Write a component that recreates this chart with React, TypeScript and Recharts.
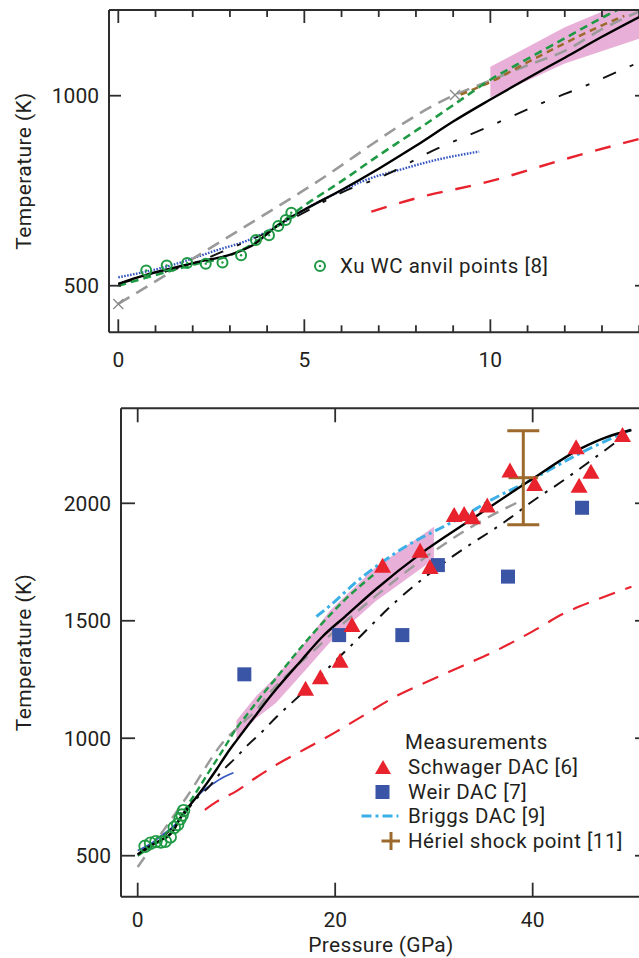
import React from 'react';
import { ComposedChart, Line, Area, Scatter, XAxis, YAxis, ErrorBar, Label } from 'recharts';

type Pt = [number, number];

const FONT = "Roboto, 'Open Sans', sans-serif";
const FRAME = '#2d2d2d';
const TEXT = '#231f20';
const GREEN = '#1f9a44';
const RED = '#e8232e';
const BLUE_SQ = '#3a55a6';
const BRIGGS = '#3cb0e6';
const BROWN = '#9c6a2c';
const GRAY = '#9a9a9a';
const BLUE_LINE = '#3656c2';
const PINK = '#e8b0d8';

// ---- data: [pressure (GPa), temperature (K)] ----
const blackCurve: Pt[] = [
  [0, 505], [0.7, 527], [1.4, 545], [2.3, 566], [2.8, 576], [3.3, 592], [3.7, 612], [4.1, 645],
  [4.5, 672], [5, 700], [6, 752], [7, 808], [8, 868], [9, 932], [10, 990], [11, 1046], [12, 1100],
  [13, 1155], [14, 1207], [16.5, 1328], [18.7, 1432], [21, 1518], [24, 1630], [28.7, 1787],
  [33.7, 1929], [39.8, 2099], [44.9, 2234], [47.5, 2282], [50, 2312],
];
const dashDotCurve: Pt[] = [
  [0, 505], [1, 530], [2, 558], [3, 598], [4, 640], [5, 693], [6, 745], [7.2, 792], [8.4, 853],
  [9.9, 916], [11.25, 975], [12.6, 1028], [14, 1088], [17, 1205], [21.5, 1390], [26.3, 1588],
  [31.4, 1759], [37.8, 1940], [39.7, 2000], [43.2, 2100], [46, 2185], [49.2, 2284],
];
const grayDashCurve: Pt[] = [
  [0, 452], [5, 752], [9, 1000], [10, 1040], [11, 1080], [12, 1118], [13, 1175], [14, 1222],
  [17.7, 1368], [20, 1458], [23.6, 1588], [29.7, 1787], [34, 1905], [39, 2015],
];
const greenDashCurve: Pt[] = [
  [0, 500], [1, 528], [2, 555], [3, 580], [3.7, 615], [4.3, 660], [4.9, 704], [6, 775], [7, 843],
  [8, 908], [9, 975], [10, 1042], [11, 1097], [12, 1151], [13, 1205], [14, 1255], [16, 1360],
  [18.7, 1490], [21, 1590], [24, 1700],
];
const brownDashCurve: Pt[] = [
  [9.2, 1003], [10, 1036], [11, 1088], [12, 1138], [13, 1185], [13.6, 1210],
];
const blueCurve: Pt[] = [
  [0, 522], [1.4, 553], [2.6, 592], [3.5, 620], [4.4, 664], [5, 700], [6, 750], [6.7, 780],
  [7.6, 806], [8.5, 830], [9.7, 853],
];
const redDashCurve: Pt[] = [
  [6.8, 695], [8, 730], [10, 775], [12, 833], [14, 886], [17, 955], [20, 1025], [23, 1100],
  [26, 1175], [29.7, 1248], [33, 1310], [36.4, 1375], [40, 1455], [43.2, 1532], [46.5, 1590],
  [50, 1645],
];
const briggsCurve: Pt[] = [
  [18.1, 1518], [19.5, 1565], [22, 1660], [24.6, 1745], [27.5, 1825], [30.7, 1895], [33, 1945],
  [35.4, 2005], [39.8, 2099], [44.9, 2215], [50, 2315],
];
const bandP = [10, 12, 14, 17, 19.5, 24, 30];
const bandLow = [995, 1085, 1150, 1290, 1410, 1580, 1762];
const bandHigh = [1076, 1180, 1262, 1410, 1545, 1725, 1900];

const xuPoints: Pt[] = [
  [0.75, 540], [1.3, 553], [1.85, 560], [2.35, 558], [2.8, 561], [3.3, 580], [3.7, 620],
  [4.05, 633], [4.3, 657], [4.5, 673], [4.65, 692],
];
const schwagerPoints: Pt[] = [
  [17, 1206], [18.5, 1255], [20.5, 1326], [21.7, 1478], [24.8, 1730], [28.6, 1794], [29.6, 1725],
  [32.05, 1946], [33.06, 1950], [33.9, 1936], [35.4, 1986], [37.7, 2135], [40.2, 2078],
  [44.4, 2234], [44.7, 2071], [45.9, 2130], [49.1, 2286],
];
const weirPoints: Pt[] = [
  [10.8, 1272], [20.4, 1439], [26.8, 1439], [30.4, 1737], [37.5, 1688], [45, 1981],
];
const herielPoint = { x: 39.05, y: 2109, ex: 1.5, ey: 200 };
const grayCrossPoints: Pt[] = [[0, 452], [9.05, 1002]];

const topXTicks = [0, 1, 2, 3, 4, 5, 6, 7, 8, 9, 10, 11, 12, 13, 14];
const topXMajor = [0, 5, 10];
const topYTicks = [500, 1000];
const botXTicks = [0, 20, 40];
const botYTicks = [500, 1000, 1500, 2000];

const rows = (pts: Pt[]) => pts.map(([x, y]) => ({ x, y }));
const bandRows = bandP.map((x, i) => ({ x, band: [bandLow[i], bandHigh[i]] }));

const TICK_FS = 21;
const TITLE_FS = 21;

// ---- tick renderers ----
function makeXTick(side: 'bottom' | 'top', majors: number[], majorLen: number, minorLen: number, labelDy: number) {
  return (props: any) => {
    const { x, y, payload } = props;
    const v = payload.value;
    const major = majors.includes(v);
    const len = major ? majorLen : minorLen;
    const dir = side === 'bottom' ? -1 : 1;
    return (
      <g>
        <line x1={x} y1={y} x2={x} y2={y + dir * len} stroke={FRAME} strokeWidth={1.8} />
        {side === 'bottom' && major ? (
          <text x={x} y={y + labelDy} textAnchor="middle" fontFamily={FONT} fontSize={TICK_FS} fill={TEXT}>
            {v}
          </text>
        ) : null}
      </g>
    );
  };
}
function makeYTick(side: 'left' | 'right', len: number) {
  return (props: any) => {
    const { x, y, payload } = props;
    const dir = side === 'left' ? 1 : -1;
    return (
      <g>
        <line x1={x} y1={y} x2={x + dir * len} y2={y} stroke={FRAME} strokeWidth={1.8} />
        {side === 'left' ? (
          <text x={x - 10} y={y + 7.5} textAnchor="end" fontFamily={FONT} fontSize={TICK_FS} fill={TEXT}>
            {payload.value}
          </text>
        ) : null}
      </g>
    );
  };
}

// ---- marker shapes ----
const XuShapeTop = (p: any) => (
  <g>
    <circle cx={p.cx} cy={p.cy} r={5} fill="none" stroke={GREEN} strokeWidth={2} />
    <circle cx={p.cx} cy={p.cy} r={1.2} fill={GREEN} />
  </g>
);
const XuShapeBot = (p: any) => (
  <circle cx={p.cx} cy={p.cy} r={5.8} fill="none" stroke={GREEN} strokeWidth={1.8} />
);
const TriShape = (p: any) => (
  <polygon
    points={`${p.cx},${p.cy - 9} ${p.cx - 8.5},${p.cy + 6} ${p.cx + 8.5},${p.cy + 6}`}
    fill={RED}
  />
);
const SqShape = (p: any) => <rect x={p.cx - 7} y={p.cy - 7} width={14} height={14} fill={BLUE_SQ} />;
const CrossShape = (p: any) => (
  <g stroke="#8a8a8a" strokeWidth={1.3}>
    <line x1={p.cx - 5} y1={p.cy - 5} x2={p.cx + 5} y2={p.cy + 5} />
    <line x1={p.cx - 5} y1={p.cy + 5} x2={p.cx + 5} y2={p.cy - 5} />
  </g>
);
const EmptyShape = () => <g />;

const axisLine = { stroke: FRAME, strokeWidth: 2 };

function TopChart() {
  const xDom: [number, number] = [-0.25, 14.21];
  const yDom: [number, number] = [377.4, 1225.5];
  return (
    <ComposedChart width={700} height={380} margin={{ top: 8, right: 51, bottom: 45.7, left: 107 }}>
      <XAxis xAxisId={0} type="number" dataKey="x" domain={xDom} allowDataOverflow ticks={topXTicks}
        interval={0} height={2} tickSize={0} tickMargin={0} tickLine={false} axisLine={axisLine}
        tick={makeXTick('bottom', topXMajor, 13, 7, 34.7)} />
      <XAxis xAxisId="top" orientation="top" type="number" dataKey="x" domain={xDom} allowDataOverflow
        ticks={topXTicks} interval={0} height={2} tickSize={0} tickMargin={0} tickLine={false}
        axisLine={axisLine} tick={makeXTick('top', topXMajor, 13, 7, 0)} />
      <YAxis yAxisId={0} type="number" dataKey="y" domain={yDom} allowDataOverflow ticks={topYTicks}
        interval={0} width={2} tickSize={0} tickMargin={0} tickLine={false} axisLine={axisLine}
        tick={makeYTick('left', 12)}>
        <Label content={() => (
          <text transform="translate(31,171) rotate(-90)" textAnchor="middle" fontFamily={FONT}
            fontSize={TITLE_FS} letterSpacing={0.4} fill={TEXT}>Temperature (K)</text>
        )} />
      </YAxis>
      <YAxis yAxisId="right" orientation="right" type="number" domain={yDom} allowDataOverflow
        ticks={topYTicks} interval={0} width={2} tickSize={0} tickMargin={0} tickLine={false}
        axisLine={axisLine} tick={makeYTick('right', 12)} />

      <Area data={bandRows} dataKey="band" type="linear" fill={PINK} fillOpacity={1} stroke="none"
        isAnimationActive={false} activeDot={false} />
      <Line data={rows(redDashCurve)} dataKey="y" type="monotone" stroke={RED} strokeWidth={2.4}
        strokeDasharray="16 13" dot={false} activeDot={false} isAnimationActive={false} />
      <Line data={rows(blueCurve)} dataKey="y" type="monotone" stroke={BLUE_LINE} strokeWidth={2.4}
        strokeDasharray="1.6 1.4" dot={false} activeDot={false} isAnimationActive={false} />
      <Line data={rows(grayDashCurve)} dataKey="y" type="monotone" stroke={GRAY} strokeWidth={2.6}
        strokeDasharray="13 8" dot={false} activeDot={false} isAnimationActive={false} />
      <Line data={rows(dashDotCurve)} dataKey="y" type="monotone" stroke="#111" strokeWidth={1.9}
        strokeDasharray="14 15 4 15" dot={false} activeDot={false} isAnimationActive={false} />
      <Line data={rows(brownDashCurve)} dataKey="y" type="monotone" stroke={BROWN} strokeWidth={2.5}
        strokeDasharray="7 5" dot={false} activeDot={false} isAnimationActive={false} />
      <Line data={rows(greenDashCurve)} dataKey="y" type="monotone" stroke={GREEN} strokeWidth={2.6}
        strokeDasharray="8 5" dot={false} activeDot={false} isAnimationActive={false} />
      <Line data={rows(blackCurve)} dataKey="y" type="monotone" stroke="#000" strokeWidth={2.4}
        dot={false} activeDot={false} isAnimationActive={false} />
      <Scatter data={rows(grayCrossPoints)} shape={CrossShape} isAnimationActive={false} />
      <Scatter data={rows(xuPoints)} shape={XuShapeTop} isAnimationActive={false} />
    </ComposedChart>
  );
}

function BottomChart() {
  const xDom: [number, number] = [-1.69, 51.78];
  const yDom: [number, number] = [325.5, 2404.4];
  return (
    <ComposedChart width={700} height={578} margin={{ top: 26.3, right: 49, bottom: 59.3, left: 119 }}>
      <XAxis xAxisId={0} type="number" dataKey="x" domain={xDom} allowDataOverflow ticks={botXTicks}
        interval={0} height={2} tickSize={0} tickMargin={0} tickLine={false} axisLine={axisLine}
        tick={makeXTick('bottom', botXTicks, 14, 14, 30.6)}>
        <Label content={() => (
          <text x={381} y={572.2} textAnchor="middle" fontFamily={FONT} fontSize={TITLE_FS}
            letterSpacing={0.3} fill={TEXT}>
            Pressure (GPa)
          </text>
        )} />
      </XAxis>
      <XAxis xAxisId="top" orientation="top" type="number" dataKey="x" domain={xDom} allowDataOverflow
        ticks={botXTicks} interval={0} height={2} tickSize={0} tickMargin={0} tickLine={false}
        axisLine={axisLine} tick={makeXTick('top', botXTicks, 14, 14, 0)} />
      <YAxis yAxisId={0} type="number" dataKey="y" domain={yDom} allowDataOverflow ticks={botYTicks}
        interval={0} width={2} tickSize={0} tickMargin={0} tickLine={false} axisLine={axisLine}
        tick={makeYTick('left', 14)}>
        <Label content={() => (
          <text transform="translate(31,272.5) rotate(-90)" textAnchor="middle" fontFamily={FONT}
            fontSize={TITLE_FS} letterSpacing={0.4} fill={TEXT}>Temperature (K)</text>
        )} />
      </YAxis>
      <YAxis yAxisId="right" orientation="right" type="number" domain={yDom} allowDataOverflow
        ticks={botYTicks} interval={0} width={2} tickSize={0} tickMargin={0} tickLine={false}
        axisLine={axisLine} tick={makeYTick('right', 14)} />

      <Area data={bandRows} dataKey="band" type="linear" fill={PINK} fillOpacity={1} stroke="none"
        isAnimationActive={false} activeDot={false} />
      <Line data={rows(redDashCurve)} dataKey="y" type="monotone" stroke={RED} strokeWidth={2.2}
        strokeDasharray="17 11" dot={false} activeDot={false} isAnimationActive={false} />
      <Line data={rows(blueCurve)} dataKey="y" type="monotone" stroke={BLUE_LINE} strokeWidth={1.8}
        dot={false} activeDot={false} isAnimationActive={false} />
      <Line data={rows(grayDashCurve)} dataKey="y" type="monotone" stroke={GRAY} strokeWidth={2.4}
        strokeDasharray="12 8" dot={false} activeDot={false} isAnimationActive={false} />
      <Line data={rows(dashDotCurve)} dataKey="y" type="monotone" stroke="#111" strokeWidth={2}
        strokeDasharray="12 8 3 8" dot={false} activeDot={false} isAnimationActive={false} />
      <Line data={rows(greenDashCurve)} dataKey="y" type="monotone" stroke={GREEN} strokeWidth={2.4}
        strokeDasharray="7 4" dot={false} activeDot={false} isAnimationActive={false} />
      <Line data={rows(briggsCurve)} dataKey="y" type="monotone" stroke={BRIGGS} strokeWidth={3}
        strokeDasharray="10 4 3 4" dot={false} activeDot={false} isAnimationActive={false} />
      <Line data={rows(blackCurve)} dataKey="y" type="monotone" stroke="#000" strokeWidth={2.4}
        dot={false} activeDot={false} isAnimationActive={false} />
      <Scatter data={rows(xuPoints)} shape={XuShapeBot} isAnimationActive={false} />
      <Scatter data={rows(weirPoints)} shape={SqShape} isAnimationActive={false} />
      <Scatter data={rows(schwagerPoints)} shape={TriShape} isAnimationActive={false} />
      <Scatter data={[herielPoint]} shape={EmptyShape} isAnimationActive={false}>
        <ErrorBar dataKey="ey" direction="y" width={16} stroke={BROWN} strokeWidth={3} />
        <ErrorBar dataKey="ex" direction="x" width={0} stroke={BROWN} strokeWidth={3} />
      </Scatter>
    </ComposedChart>
  );
}

const ROW_H = 24.6;
const legendText: React.CSSProperties = {
  display: 'block', height: ROW_H, overflow: 'visible', letterSpacing: '0.5px',
  fontFamily: FONT, fontSize: 20.5, color: TEXT, whiteSpace: 'nowrap', lineHeight: `${ROW_H}px`,
};

function BottomLegend() {
  const rowStyle: React.CSSProperties = { display: 'flex', alignItems: 'center', height: ROW_H };
  return (
    <div style={{ position: 'absolute', left: 360, top: 730.4 }}>
      <div style={rowStyle}><span style={{ ...legendText, marginLeft: 45 }}>Measurements</span></div>
      <div style={rowStyle}>
        <svg width={40} height={20}><polygon points="23,3 15,17 31,17" fill={RED} /></svg>
        <span style={{ ...legendText, marginLeft: 8 }}>Schwager DAC [6]</span>
      </div>
      <div style={rowStyle}>
        <svg width={40} height={20}><rect x={15.5} y={3} width={14} height={14} fill={BLUE_SQ} /></svg>
        <span style={{ ...legendText, marginLeft: 8 }}>Weir DAC [7]</span>
      </div>
      <div style={rowStyle}>
        <svg width={40} height={20}>
          <line x1={1.5} y1={10} x2={38.5} y2={10} stroke={BRIGGS} strokeWidth={3} strokeDasharray="10 4 3 4" />
        </svg>
        <span style={{ ...legendText, marginLeft: 8 }}>Briggs DAC [9]</span>
      </div>
      <div style={rowStyle}>
        <svg width={40} height={20}>
          <line x1={21.5} y1={10} x2={40} y2={10} stroke={BROWN} strokeWidth={3} />
          <line x1={31} y1={1} x2={31} y2={19} stroke={BROWN} strokeWidth={3} />
        </svg>
        <span style={{ ...legendText, marginLeft: 8 }}>Hériel shock point [11]</span>
      </div>
    </div>
  );
}

function TopLegend() {
  return (
    <div style={{ position: 'absolute', left: 312, top: 253.7, display: 'flex', alignItems: 'center', height: ROW_H }}>
      <svg width={16} height={16}>
        <circle cx={8} cy={8} r={5} fill="none" stroke={GREEN} strokeWidth={2} />
        <circle cx={8} cy={8} r={1.2} fill={GREEN} />
      </svg>
      <span style={{ ...legendText, marginLeft: 12 }}>Xu WC anvil points [8]</span>
    </div>
  );
}

export default function App() {
  return (
    <div style={{ position: 'fixed', left: 0, top: 0, width: 639, height: 958, overflow: 'hidden', background: '#fff' }}>
      <div style={{ position: 'absolute', left: 0, top: 0 }}><TopChart /></div>
      <div style={{ position: 'absolute', left: 0, top: 380 }}><BottomChart /></div>
      <TopLegend />
      <BottomLegend />
    </div>
  );
}
